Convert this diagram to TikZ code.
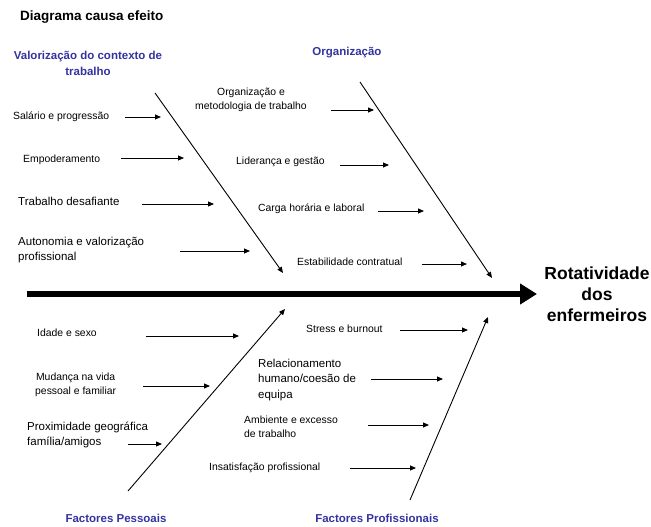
\documentclass[tikz,border=0pt]{standalone}
\usepackage{fontspec}
\setmainfont{Liberation Sans}
\usetikzlibrary{arrows.meta}
\definecolor{hdblue}{RGB}{51,51,160}
\tikzset{
  sm/.style={font=\fontsize{10.4}{14}\selectfont, inner sep=0pt, anchor=west},
  lg/.style={font=\fontsize{11.5}{15.5}\selectfont, inner sep=0pt, anchor=west},
  hd/.style={font=\fontsize{11.5}{16}\bfseries\selectfont, text=hdblue, inner sep=0pt, align=center},
  cause/.style={line width=0.9pt, -{Triangle[length=6pt,width=5pt]}},
  bone/.style={line width=0.9pt, -{Triangle[length=6pt,width=5pt]}},
}
\begin{document}
\begin{tikzpicture}[x=1pt,y=-1pt]
\useasboundingbox (0,0) rectangle (651,527);
% title
\node[font=\fontsize{13.5}{16}\bfseries\selectfont, inner sep=0pt, anchor=west] (title) at (20,17) {Diagrama causa efeito};
% spine
\coordinate (sp0) at (27,294);
\coordinate (sp1) at (537,294);
\draw[line width=6pt, -{Triangle[length=17pt,width=20pt]}] (sp0) -- (sp1);
\node[font=\fontsize{17.5}{21}\bfseries\selectfont, inner sep=0pt, align=center] (effect) at (597,294) {Rotatividade\\dos\\enfermeiros};
% headers
\node[hd] (h1) at (88,63) {Valorização do contexto de\\trabalho};
\node[hd] (h2) at (347,53) {Organização};
\node[hd] (h3) at (116,518) {Factores Pessoais};
\node[hd] (h4) at (377,518) {Factores Profissionais};
% bones
\coordinate (b1s) at (155,93);  \coordinate (b1e) at (283,273);
\coordinate (b2s) at (360,82);  \coordinate (b2e) at (492,278);
\coordinate (b3s) at (128,491); \coordinate (b3e) at (285,309);
\coordinate (b4s) at (410,500); \coordinate (b4e) at (488,317);
\draw[bone] (b1s) -- (b1e);
\draw[bone] (b2s) -- (b2e);
\draw[bone] (b3s) -- (b3e);
\draw[bone] (b4s) -- (b4e);
% group 1
\node[sm] (c11) at (13,117) {Salário e progressão};
\node[sm] (c12) at (23,160) {Empoderamento};
\node[lg] (c13) at (18,201) {Trabalho desafiante};
\node[lg, align=left] (c14) at (18,250) {Autonomia  e valorização\\profissional};
\coordinate (a11s) at (125,117); \coordinate (a11e) at (161,117);
\coordinate (a12s) at (121,158); \coordinate (a12e) at (184,158);
\coordinate (a13s) at (142,204); \coordinate (a13e) at (214,204);
\coordinate (a14s) at (180,251); \coordinate (a14e) at (250,251);
\draw[cause] (a11s) -- (a11e);
\draw[cause] (a12s) -- (a12e);
\draw[cause] (a13s) -- (a13e);
\draw[cause] (a14s) -- (a14e);
% group 2
\node[sm, align=center, anchor=center] (c21) at (251,100) {Organização e\\metodologia  de trabalho};
\node[sm] (c22) at (236,162) {Liderança e gestão};
\node[sm] (c23) at (258,209) {Carga horária e laboral};
\node[sm] (c24) at (297,262) {Estabilidade contratual};
\coordinate (a21s) at (331,110); \coordinate (a21e) at (374,110);
\coordinate (a22s) at (340,165); \coordinate (a22e) at (389,165);
\coordinate (a23s) at (378,211); \coordinate (a23e) at (424,211);
\coordinate (a24s) at (422,264); \coordinate (a24e) at (467,264);
\draw[cause] (a21s) -- (a21e);
\draw[cause] (a22s) -- (a22e);
\draw[cause] (a23s) -- (a23e);
\draw[cause] (a24s) -- (a24e);
% group 3
\node[sm] (c31) at (37,333) {Idade e sexo};
\node[sm, align=center] (c32) at (35,385) {Mudança na vida\\pessoal  e familiar};
\node[lg, align=left] (c33) at (27,435) {Proximidade geográfica\\família/amigos};
\coordinate (a31s) at (146,336); \coordinate (a31e) at (239,336);
\coordinate (a32s) at (143,386); \coordinate (a32e) at (210,386);
\coordinate (a33s) at (128,444); \coordinate (a33e) at (162,444);
\draw[cause] (a31s) -- (a31e);
\draw[cause] (a32s) -- (a32e);
\draw[cause] (a33s) -- (a33e);
% group 4
\node[sm] (c41) at (306,329) {Stress e  burnout};
\node[lg, align=left] (c42) at (258,380) {Relacionamento\\humano/coesão  de\\equipa};
\node[sm, align=left] (c43) at (244,427) {Ambiente e excesso\\de trabalho};
\node[sm] (c44) at (209,468) {Insatisfação  profissional};
\coordinate (a41s) at (400,330); \coordinate (a41e) at (468,330);
\coordinate (a42s) at (371,379); \coordinate (a42e) at (443,379);
\coordinate (a43s) at (368,425); \coordinate (a43e) at (429,425);
\coordinate (a44s) at (350,468); \coordinate (a44e) at (416,468);
\draw[cause] (a41s) -- (a41e);
\draw[cause] (a42s) -- (a42e);
\draw[cause] (a43s) -- (a43e);
\draw[cause] (a44s) -- (a44e);
\end{tikzpicture}
\end{document}
